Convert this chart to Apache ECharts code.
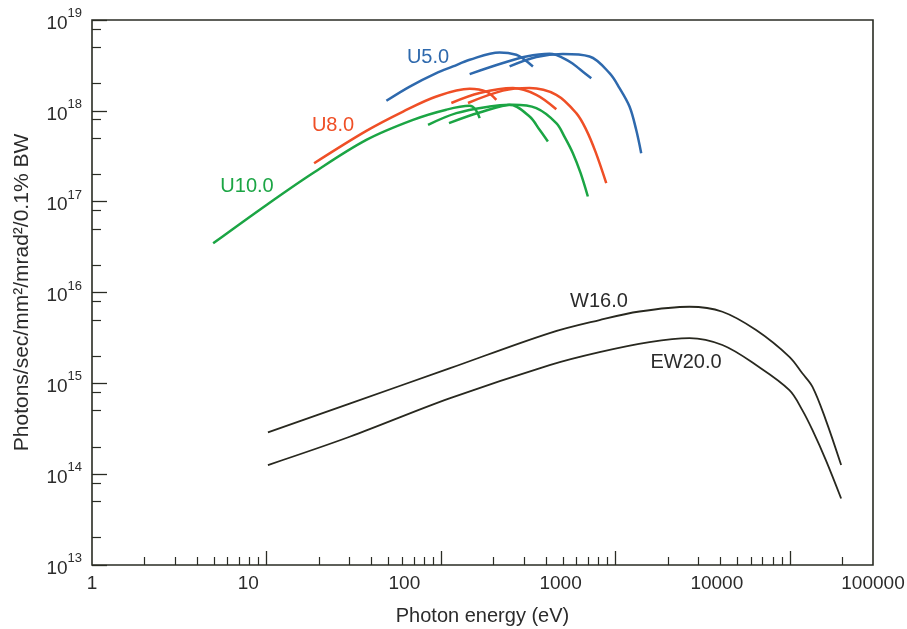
<!DOCTYPE html>
<html>
<head>
<meta charset="utf-8">
<script src="https://cdn.jsdelivr.net/npm/echarts@6/dist/echarts.min.js"></script>
<style>
html,body{margin:0;padding:0;background:#fff;}
#chart{width:907px;height:629px;}
</style>
</head>
<body>
<div id="chart"></div>
<script>
// ---------- data (photon energy in eV, brightness) ----------
const U5_h1_E = [48.7, 66.3, 94.2, 117.3, 146.2, 217.2, 270.6, 302, 337];
const U5_h1_F = [1.29e18, 1.85e18, 2.60e18, 3.08e18, 3.65e18, 4.39e18, 4.14e18, 3.65e18, 3.08e18];
const U5_h2_E = [146.2, 226.8, 308.9, 419.9, 546.7, 623.7, 727.8];
const U5_h2_F = [2.54e18, 3.36e18, 3.97e18, 4.25e18, 3.49e18, 2.88e18, 2.29e18];
const U5_h3_E = [247.7, 352.4, 500.3, 711.5, 926.4, 1057, 1206, 1317, 1407];
const U5_h3_F = [3.08e18, 3.91e18, 4.22e18, 3.97e18, 2.60e18, 1.78e18, 1.116e18, 6.18e17, 3.42e17];

const U8_h1_E = [18.76, 37.4, 60.7, 94.2, 146.2, 182.2, 207.9];
const U8_h1_F = [2.65e17, 6.02e17, 9.82e17, 1.44e18, 1.75e18, 1.63e18, 1.32e18];
const U8_h2_E = [114.8, 166.8, 258.8, 352.4, 458.7];
const U8_h2_F = [1.22e18, 1.57e18, 1.78e18, 1.50e18, 1.04e18];
const U8_h3_E = [143, 226.8, 322.5, 458.7, 597.2, 681.4, 770.2, 887.1];
const U8_h3_F = [1.22e18, 1.67e18, 1.78e18, 1.50e18, 9.43e17, 6.18e17, 3.53e17, 1.60e17];

const U10_h1_E = [4.95, 10.01, 18.51, 37.4, 69.2, 107.5, 146.2, 158.2, 166.8];
const U10_h1_F = [3.48e16, 9.21e16, 2.07e17, 4.79e17, 7.96e17, 1.03e18, 1.135e18, 1.03e18, 8.31e17];
const U10_h2_E = [84.4, 122.7, 190.4, 247.7, 322.5, 368, 410.6];
const U10_h2_F = [7.01e17, 9.43e17, 1.116e18, 1.164e18, 8.65e17, 6.18e17, 4.59e17];
const U10_h3_E = [111.3, 166.8, 258.8, 352.4, 458.7, 511.7, 571, 631.9, 695.8];
const U10_h3_F = [7.32e17, 9.58e17, 1.164e18, 1.07e18, 7.32e17, 5.17e17, 3.42e17, 2.07e17, 1.14e17];

const W16_E = [10.2, 30.0, 112, 420, 812, 1376, 2660, 4110, 6410, 9950, 11800, 13500, 16100, 19700];
const W16_F = [2.88e14, 5.98e14, 1.46e15, 3.58e15, 4.98e15, 6.18e15, 6.97e15, 6.14e15, 3.86e15, 1.96e15, 1.29e15, 9.16e14, 3.94e14, 1.26e14];
const EW20_E = [10.2, 30.0, 112, 420, 812, 1570, 2660, 4110, 6410, 9950, 11800, 13500, 16100, 19700];
const EW20_F = [1.26e14, 2.58e14, 6.82e14, 1.59e15, 2.21e15, 2.85e15, 3.15e15, 2.64e15, 1.59e15, 8.43e14, 5.07e14, 3.05e14, 1.43e14, 5.4e13];

// ---------- axes ----------
const xMin = 1, xMax = 30000;
const yMin = 1e13, yMax = 1e19;
const xTickLabels = ['1', '10', '100', '1000', '10000', '100000'];
const xMajorTicks = [10, 100, 1000, 10000];
const xMinorTicks = [2,3,4,5,6,7,8,9, 20,30,40,50,60,70,80,90, 200,300,400,500,600,700,800,900,
                     2000,3000,4000,5000,6000,7000,8000,9000, 20000];
const yExponents = [13, 14, 15, 16, 17, 18, 19];
const yMinorTicks = [2e13,5e13,8e13, 2e14,5e14,8e14, 2e15,5e15,8e15, 2e16,5e16,8e16, 2e17,5e17,8e17, 2e18,5e18,8e18];

const seriesLabels = ['U5.0', 'U8.0', 'U10.0', 'W16.0', 'EW20.0'];

const FONT = '"Liberation Sans", Arial, Helvetica, sans-serif';
const INK = '#2a2c24';
const TXT = '#2b2b2b';
const C_BLUE = '#2e69ad', C_RED = '#ef4f26', C_GREEN = '#1ba544', C_BLACK = '#28281f';

function pairs(E, F) { return E.map((e, i) => [e, F[i]]); }
function line(name, E, F, color, width) {
  return {
    name, type: 'line', xAxisIndex: 0, yAxisIndex: 0,
    data: pairs(E, F), showSymbol: false, symbol: 'none', smooth: 0.35,
    lineStyle: { color, width }, itemStyle: { color }, silent: true
  };
}
const lg = v => Math.log10(v);
function label(text, x, y, color) {
  return { type: 'text', x, y, silent: true,
    style: { text, fill: color, font: '20px ' + FONT, align: 'center', verticalAlign: 'middle',
             textAlign: 'center', textVerticalAlign: 'middle' } };
}

const chart = echarts.init(document.getElementById('chart'), null, { renderer: 'canvas' });
const hidden = { show: false };
const option = {
  animation: false,
  backgroundColor: '#ffffff',
  grid: { left: 92, right: 34, top: 20, bottom: 64, containLabel: false, outerBoundsMode: 'none',
          show: true, borderColor: INK, borderWidth: 1.6, backgroundColor: 'transparent' },
  xAxis: [
    { type: 'log', logBase: 10, min: xMin, max: xMax, position: 'bottom',
      axisLine: hidden, axisTick: hidden, axisLabel: hidden, splitLine: hidden,
      name: 'Photon energy (eV)', nameLocation: 'middle', nameGap: 41,
      nameTextStyle: { fontFamily: FONT, fontSize: 20, color: TXT } },
    { type: 'value', min: 0, max: lg(xMax), position: 'bottom',
      axisLine: hidden, axisLabel: hidden, splitLine: hidden,
      axisTick: { show: true, inside: true, length: 14, customValues: xMajorTicks.map(lg),
                  lineStyle: { color: INK, width: 1.3 } } },
    { type: 'value', min: 0, max: lg(xMax), position: 'bottom',
      axisLine: hidden, axisLabel: hidden, splitLine: hidden,
      axisTick: { show: true, inside: true, length: 8, customValues: xMinorTicks.map(lg),
                  lineStyle: { color: INK, width: 1.2 } } },
    { type: 'value', min: 0, max: xTickLabels.length - 1, interval: 1, position: 'bottom',
      axisLine: hidden, axisTick: hidden, splitLine: hidden,
      axisLabel: { show: true, margin: 9, fontFamily: FONT, fontSize: 19, color: TXT,
                   showMinLabel: true, showMaxLabel: true, hideOverlap: false,
                   formatter: v => xTickLabels[Math.round(v)] } }
  ],
  yAxis: [
    { type: 'log', logBase: 10, min: yMin, max: yMax, position: 'left',
      axisLine: hidden, axisTick: hidden, axisLabel: hidden, splitLine: hidden,
      name: 'Photons/sec/mm\u00B2/mrad\u00B2/0.1% BW', nameLocation: 'middle', nameGap: 59,
      nameTextStyle: { fontFamily: FONT, fontSize: 21, color: TXT } },
    { type: 'value', min: yExponents[0], max: yExponents[yExponents.length - 1], interval: 1, position: 'left',
      axisLine: hidden, splitLine: hidden,
      axisTick: { show: true, inside: true, length: 15, lineStyle: { color: INK, width: 1.3 } },
      axisLabel: { show: true, margin: 10, showMinLabel: true, showMaxLabel: true,
                   formatter: v => '{a|10}{b|' + Math.round(v) + '}',
                   rich: { a: { fontFamily: FONT, fontSize: 19, color: TXT, padding: [7, 0, 0, 0] },
                           b: { fontFamily: FONT, fontSize: 13, color: TXT, verticalAlign: 'top' } } } },
    { type: 'value', min: yExponents[0], max: yExponents[yExponents.length - 1], position: 'left',
      axisLine: hidden, axisLabel: hidden, splitLine: hidden,
      axisTick: { show: true, inside: true, length: 9, customValues: yMinorTicks.map(lg),
                  lineStyle: { color: INK, width: 1.2 } } }
  ],
  series: [
    line('U5.0 a', U5_h1_E, U5_h1_F, C_BLUE, 2.5),
    line('U5.0 b', U5_h2_E, U5_h2_F, C_BLUE, 2.5),
    line('U5.0 c', U5_h3_E, U5_h3_F, C_BLUE, 2.5),
    line('U8.0 a', U8_h1_E, U8_h1_F, C_RED, 2.5),
    line('U8.0 b', U8_h2_E, U8_h2_F, C_RED, 2.5),
    line('U8.0 c', U8_h3_E, U8_h3_F, C_RED, 2.5),
    line('U10.0 a', U10_h1_E, U10_h1_F, C_GREEN, 2.5),
    line('U10.0 b', U10_h2_E, U10_h2_F, C_GREEN, 2.5),
    line('U10.0 c', U10_h3_E, U10_h3_F, C_GREEN, 2.5),
    line('W16.0', W16_E, W16_F, C_BLACK, 1.8),
    line('EW20.0', EW20_E, EW20_F, C_BLACK, 1.8)
  ],
  graphic: [
    label(seriesLabels[0], 428, 57, C_BLUE),
    label(seriesLabels[1], 333, 125, C_RED),
    label(seriesLabels[2], 247, 186, C_GREEN),
    label(seriesLabels[3], 599, 301, TXT),
    label(seriesLabels[4], 686, 362, TXT)
  ]
};
chart.setOption(option);
</script>
</body>
</html>
